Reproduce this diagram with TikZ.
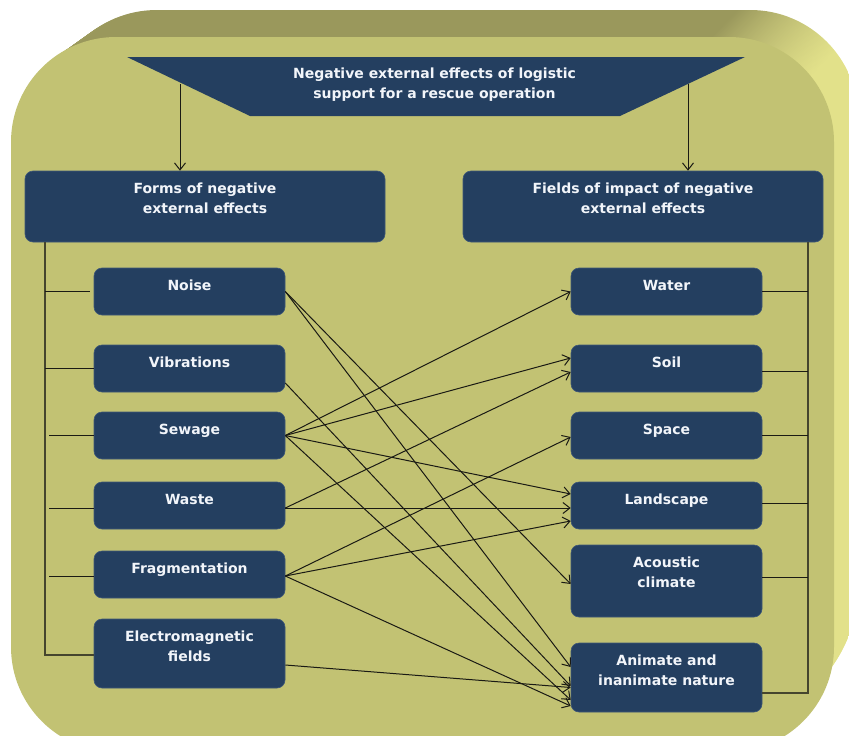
\documentclass[tikz,border=0pt]{standalone}
\usepackage{fontspec}
\setmainfont{DejaVu Sans}
\usetikzlibrary{arrows.meta}
\definecolor{navy}{HTML}{243F60}
\definecolor{navyedge}{HTML}{3E5878}
\definecolor{face}{HTML}{C2C273}
\definecolor{bevdark}{HTML}{9A985C}
\definecolor{bevmid}{HTML}{ACAA66}
\definecolor{bevlight}{HTML}{E2E18A}
\definecolor{txt}{HTML}{F2F5FA}
\definecolor{linec}{HTML}{1A1A14}
\definecolor{brack}{HTML}{45452E}
% TikZ maps the path's bounding box onto 25bp..75bp of the shading
\pgfdeclarehorizontalshading{bevshade}{100bp}{color(0bp)=(bevmid); color(25bp)=(bevmid); color(29bp)=(bevdark); color(67.5bp)=(bevdark); color(73.5bp)=(bevlight); color(100bp)=(bevlight)}
\begin{document}
\begin{tikzpicture}[x=1pt,y=-1pt,
  box/.style={draw=navyedge, line width=0.6pt, fill=navy, rounded corners=8pt, inner sep=0pt},
  lbox/.style={box, minimum width=191pt, minimum height=47pt},
  lbl/.style={text=txt, font=\fontsize{14}{20}\selectfont\bfseries, align=center, anchor=north, inner sep=0pt},
  arr/.style={draw=linec, line width=1pt, -{Straight Barb[length=7pt,width=11pt]}},
  brk/.style={draw=brack, line width=1.1pt},
  hl/.style={draw=linec, line width=1pt}]
\useasboundingbox (0,0) rectangle (849,736);
% 3D background
\foreach \t in {27,26,...,1} {
  \shade[shading=bevshade, rounded corners=108pt]
    ({11+1.4*\t},400) -- ({11+1.4*\t},{37-\t}) -- ({834+0.9*\t},{37-\t}) [rounded corners=140pt] -- ({834+0.9*\t},{752-\t}) [rounded corners=108pt] -- ({11+1.4*\t},{752-\t}) -- cycle;
}
\fill[face, rounded corners=105pt] (11,400) -- (11,37) -- (834,37) -- (834,752) -- (11,752) -- cycle;

% title
\fill[navy] (127,57) -- (745,57) -- (620,116) -- (250,116) -- cycle;
\node[lbl] (title) at (434.5,68) {Negative external effects of logistic\\support for a rescue operation};
\coordinate (tl) at (180,84);
\coordinate (tr) at (688,84);

% headers
\node[box, minimum width=360pt, minimum height=71pt] (forms) at (205,206.5) {};
\node[lbl] (formst) at ([yshift=-12pt]forms.north) {Forms of negative\\external effects};
\node[box, minimum width=360pt, minimum height=71pt] (fields) at (643,206.5) {};
\node[lbl] (fieldst) at ([yshift=-12pt]fields.north) {Fields of impact of negative\\external effects};

\draw[arr] (tl) -- (tl |- forms.north);
\draw[arr] (tr) -- (tr |- fields.north);

% left boxes
\node[lbox] (noise) at (189.5,291.5) {};
\node[lbox] (vib) at (189.5,368.5) {};
\node[lbox] (sew) at (189.5,435.5) {};
\node[lbox] (waste) at (189.5,505.5) {};
\node[lbox] (frag) at (189.5,574.5) {};
\node[lbox, minimum height=69pt] (em) at (189.5,653.5) {};
\node[lbl] (noiset) at ([yshift=-12pt]noise.north) {Noise};
\node[lbl] (vibt) at ([yshift=-12pt]vib.north) {Vibrations};
\node[lbl] (sewt) at ([yshift=-12pt]sew.north) {Sewage};
\node[lbl] (wastet) at ([yshift=-12pt]waste.north) {Waste};
\node[lbl] (fragt) at ([yshift=-12pt]frag.north) {Fragmentation};
\node[lbl] (emt) at ([yshift=-12pt]em.north) {Electromagnetic\\fields};

% right boxes
\node[lbox] (water) at (666.5,291.5) {};
\node[lbox] (soil) at (666.5,368.5) {};
\node[lbox] (space) at (666.5,435.5) {};
\node[lbox] (land) at (666.5,505.5) {};
\node[lbox, minimum height=72pt] (acou) at (666.5,581) {};
\node[lbox, minimum height=69pt] (anim) at (666.5,677.5) {};
\node[lbl] (watert) at ([yshift=-12pt]water.north) {Water};
\node[lbl] (soilt) at ([yshift=-12pt]soil.north) {Soil};
\node[lbl] (spacet) at ([yshift=-12pt]space.north) {Space};
\node[lbl] (landt) at ([yshift=-12pt]land.north) {Landscape};
\node[lbl] (acout) at ([yshift=-12pt]acou.north) {Acoustic\\climate};
\node[lbl] (animt) at ([yshift=-12pt]anim.north) {Animate and\\inanimate nature};

% left bracket
\coordinate (lb) at (45,655);
\draw[brk] (forms.south -| lb) -- (lb) -- (lb -| em.west);
\draw[hl, shorten >=4pt] (lb |- noise.west) -- (noise.west);
\draw[hl] (lb |- vib.west) -- (vib.west);
\draw[hl, shorten <=4pt] (lb |- sew.west) -- (sew.west);
\draw[hl, shorten <=4pt] ([yshift=-2.5pt]waste.west -| lb) -- ([yshift=-2.5pt]waste.west);
\draw[hl, shorten <=4pt] ([yshift=-1.5pt]frag.west -| lb) -- ([yshift=-1.5pt]frag.west);

% right bracket
\coordinate (rb) at (808,693);
\draw[brk] (fields.south -| rb) -- (rb) -- (rb -| anim.east);
\draw[hl] (water.east) -- (water.east -| rb);
\draw[hl] ([yshift=-2.5pt]soil.east) -- ([yshift=-2.5pt]soil.east -| rb);
\draw[hl] (space.east) -- (space.east -| rb);
\draw[hl] ([yshift=2.5pt]land.east) -- ([yshift=2.5pt]land.east -| rb);
\draw[hl] ([yshift=4pt]acou.east) -- ([yshift=4pt]acou.east -| rb);

% connectors
\draw[arr] (noise.east) -- ([yshift=-3pt]acou.west);
\draw[arr] (noise.east) -- ([yshift=10.5pt]anim.west);
\draw[arr] ([yshift=-14.5pt]vib.east) -- ([yshift=-8.5pt]anim.west);
\draw[arr] (sew.east) -- (water.west);
\draw[arr] (sew.east) -- ([yshift=10.5pt]soil.west);
\draw[arr] (sew.east) -- ([yshift=11.5pt]land.west);
\draw[arr] (sew.east) -- ([yshift=-22.5pt]anim.west);
\draw[arr] ([yshift=-2.5pt]waste.east) -- ([yshift=-3.5pt]soil.west);
\draw[arr] ([yshift=-2.5pt]waste.east) -- ([yshift=-2.5pt]land.west);
\draw[arr] ([yshift=-1.5pt]frag.east) -- ([yshift=-1.5pt]space.west);
\draw[arr] ([yshift=-1.5pt]frag.east) -- ([yshift=-15.5pt]land.west);
\draw[arr] ([yshift=-1.5pt]frag.east) -- ([yshift=-28.5pt]anim.west);
\draw[arr] ([yshift=-11.5pt]em.east) -- ([yshift=-10pt]anim.west);
\end{tikzpicture}
\end{document}
